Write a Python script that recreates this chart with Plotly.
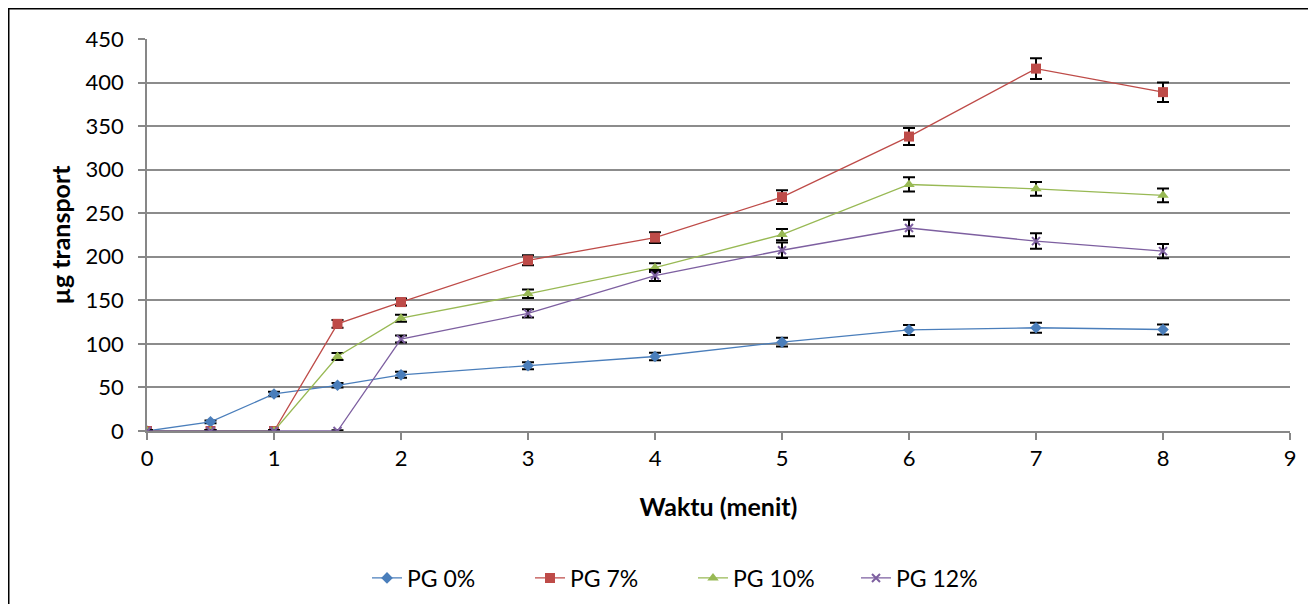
import plotly.graph_objects as go

waktu = [0, 0.5, 1, 1.5, 2, 3, 4, 5, 6, 7, 8]
series_names = ["PG 0%", "PG 7%", "PG 10%", "PG 12%"]
pg0 = [0, 10.5, 42.5, 52.5, 64.5, 75, 85.5, 102, 116, 118.5, 116.5]
pg7 = [0, 0, 0, 123, 148, 196, 222, 268.5, 338, 416, 389]
pg10 = [0, 0, 0, 85.5, 129.5, 157.5, 187.5, 225.5, 283, 278, 270.5]
pg12 = [0, 0, 0, 0, 105.5, 135, 178.5, 207.5, 233, 218, 206.5]
err0 = [0.8, 1.5, 2.5, 2.5, 3.5, 4.0, 4.2, 5.0, 5.8, 5.8, 5.8]
err7 = [0.8, 0.8, 0.8, 4.5, 4.0, 5.8, 6.2, 7.8, 9.8, 11.8, 11.2]
err10 = [0.8, 0.8, 0.8, 4.0, 4.0, 4.8, 5.0, 6.5, 8.2, 7.8, 8.0]
err12 = [0.8, 0.8, 0.8, 0.8, 4.0, 4.8, 6.2, 9.0, 9.4, 8.9, 8.2]

colors = ["#4a7ebb", "#be4b48", "#98b954", "#7d5fa0"]
symbols = ["diamond", "square", "triangle-up", "x-thin-open"]
sizes = [9, 10, 10, 8]

W, H = 1300, 596
L, R, T, B = 139, 18, 31, 173
PW, PH = W - L - R, H - T - B

fig = go.Figure()
for name, vals, errs, c, s, sz in zip(series_names, [pg0, pg7, pg10, pg12],
                                      [err0, err7, err10, err12], colors, symbols, sizes):
    marker = dict(symbol=s, size=sz, color=c)
    if s == "x-thin-open":
        marker["line"] = dict(color=c, width=2)
    fig.add_trace(go.Scatter(
        x=waktu, y=vals, name=name, mode="lines+markers",
        line=dict(color=c, width=1.3),
        marker=marker,
        error_y=dict(type="data", array=errs, visible=True, color="black",
                     thickness=2, width=6),
    ))

fig.update_layout(
    width=W, height=H,
    margin=dict(l=L, r=R, t=T, b=B, pad=0, autoexpand=False),
    paper_bgcolor="white", plot_bgcolor="white",
    font=dict(family="Lato, Open Sans, sans-serif", size=22, color="black"),
    showlegend=True,
    legend=dict(orientation="h", xref="container", yref="container",
                x=685 / W, xanchor="center",
                y=(H - 570) / H, yanchor="middle",
                font=dict(size=23), entrywidth=118, entrywidthmode="pixels"),
)
fig.update_xaxes(
    range=[0, 9], dtick=1, tick0=0, showgrid=False,
    showline=True, linecolor="#878787", linewidth=1.5,
    ticks="outside", ticklen=7, tickcolor="#878787", tickwidth=1.5,
    zeroline=False, automargin=False,
    title=dict(text="<b>Waktu (menit)</b>", font=dict(size=25), standoff=28),
)
fig.update_yaxes(
    range=[0, 450], dtick=50, showgrid=True, gridcolor="#8c8c8c", gridwidth=2,
    showline=True, linecolor="#878787", linewidth=1.5,
    ticks="outside", ticklen=7, tickcolor="#878787", tickwidth=1.5,
    zeroline=False, ticklabelstandoff=10, automargin=False,
    title=dict(text="<b>µg transport</b>", font=dict(size=25), standoff=8),
)
fig.add_shape(type="rect", xref="paper", yref="paper",
              x0=(0.5 - L) / PW, x1=(W + 20 - L) / PW,
              y0=(423 - 800) / PH, y1=(423 - 0.5) / PH,
              line=dict(color="black", width=2), fillcolor="rgba(0,0,0,0)", layer="below")

fig.write_html("out.html")
